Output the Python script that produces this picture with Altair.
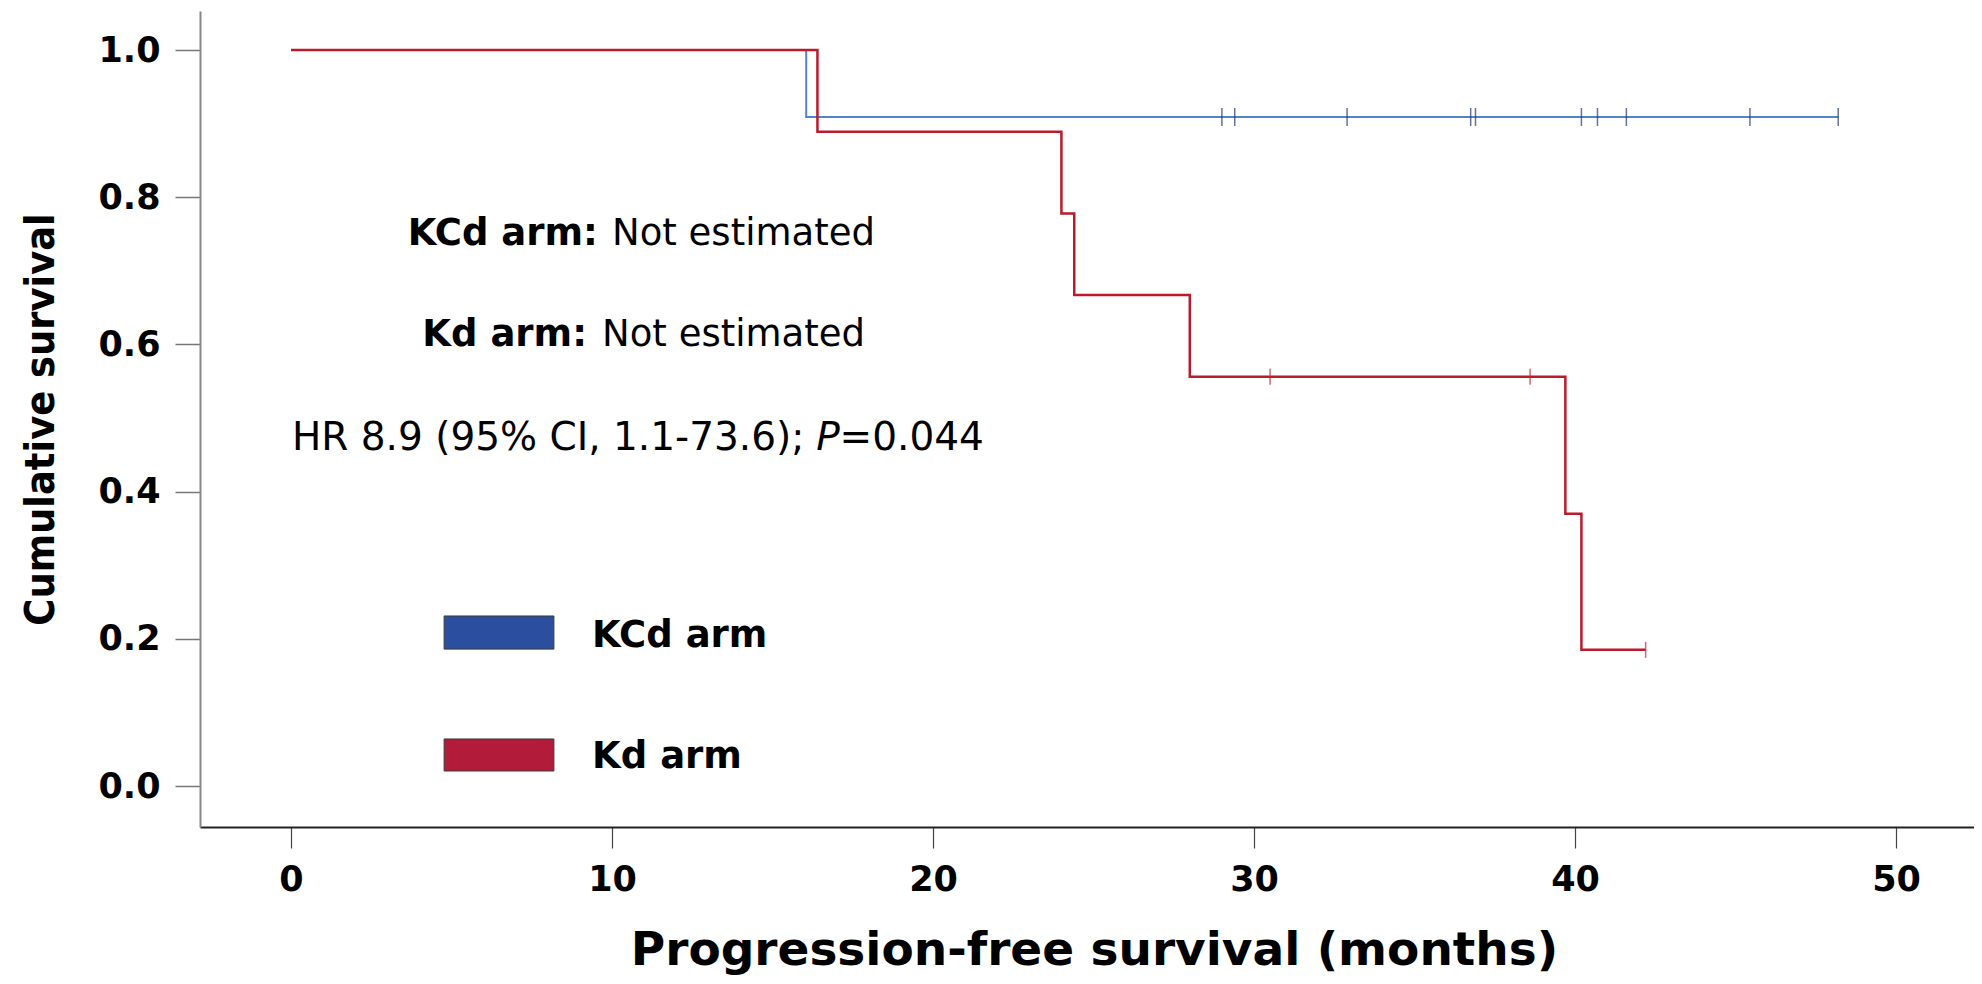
import altair as alt
import pandas as pd

# ---- Kaplan-Meier data ----
kcd_time = [0, 16.05, 48.2]
kcd_surv = [1.0, 0.909, 0.909]
kd_time = [0, 16.4, 24.0, 24.4, 28.0, 39.7, 40.2, 42.2]
kd_surv = [1.0, 0.889, 0.778, 0.667, 0.556, 0.370, 0.185, 0.185]

kcd_cens_time = [29.0, 29.4, 32.9, 36.75, 36.9, 40.2, 40.7, 41.6, 45.45, 48.2]
kcd_cens_surv = [0.909] * 10
kd_cens_time = [30.5, 38.6, 42.2]
kd_cens_surv = [0.556, 0.556, 0.185]

x_ticks = [0, 10, 20, 30, 40, 50]
y_ticks = [0.0, 0.2, 0.4, 0.6, 0.8, 1.0]

# annotations (data coordinates)
bold_text = ["KCd arm:", "Kd arm:"]
bold_x = [9.56, 9.22]
bold_y = [0.735, 0.598]
reg_text = ["Not estimated", "Not estimated"]
reg_x = [10.0, 9.69]
reg_y = [0.735, 0.598]

hr_text = ["HR 8.9 (95% CI, 1.1-73.6);", "P", "=0.044"]
hr_x = [0.03, 16.36, 17.09]
hr_y = [0.4565, 0.4565, 0.4565]
hr_style = ["normal", "italic", "normal"]

legend_labels = ["KCd arm", "Kd arm"]
legend_x1 = [4.77, 4.77]
legend_x2 = [8.19, 8.19]
legend_y1 = [0.231, 0.0639]
legend_y2 = [0.186, 0.0204]
legend_tx = [9.38, 9.38]
legend_ty = [0.189, 0.0245]
legend_fill = ["#2b4f9e", "#b31b3b"]

X_DOMAIN = [-2.835, 52.43]
Y_DOMAIN = [-0.0557, 1.053]

xs = alt.Scale(domain=X_DOMAIN, nice=False, zero=False)
ys = alt.Scale(domain=Y_DOMAIN, nice=False, zero=False)

df_kcd = pd.DataFrame({"t": kcd_time, "s": kcd_surv})
df_kd = pd.DataFrame({"t": kd_time, "s": kd_surv})
df_kcd_c = pd.DataFrame({"t": kcd_cens_time, "s": kcd_cens_surv})
df_kd_c = pd.DataFrame({"t": kd_cens_time, "s": kd_cens_surv})

X = alt.X("t:Q", scale=xs, axis=alt.Axis(
    values=x_ticks, format="d", grid=False,
    title="Progression-free survival (months)",
    labelFont="DejaVu Sans", labelFontWeight="bold", labelFontSize=35, labelColor="#000",
    labelPadding=14, tickSize=21, tickColor="#444", tickWidth=1.2,
    domainColor="#222", domainWidth=2,
    titleFont="DejaVu Sans", titleFontWeight="bold", titleFontSize=47, titleColor="#000",
    titleBaseline="alphabetic", titleY=137, titleX=894, titleAlign="center"))
Y = alt.Y("s:Q", scale=ys, axis=alt.Axis(
    values=y_ticks, format=".1f", grid=False,
    title="Cumulative survival",
    labelFont="DejaVu Sans", labelFontWeight="bold", labelFontSize=35, labelColor="#000",
    labelPadding=15, tickSize=25, tickColor="#777", tickWidth=1.5,
    domainColor="#888", domainWidth=2,
    titleFont="DejaVu Sans Condensed, DejaVu Sans, sans-serif",
    titleFontWeight="bold", titleFontSize=41, titleColor="#000",
    titleAngle=270, titleBaseline="alphabetic", titleAlign="center",
    titleX=-147, titleY=408))

line_kcd = alt.Chart(df_kcd).mark_line(interpolate="step-after", color="#5283d0", strokeWidth=2).encode(x=X, y=Y)
line_kd = alt.Chart(df_kd).mark_line(interpolate="step-after", color="#bb1a2c", strokeWidth=2.5).encode(
    x=alt.X("t:Q", scale=xs), y=alt.Y("s:Q", scale=ys))
cens_kcd = alt.Chart(df_kcd_c).mark_tick(orient="vertical", size=18, thickness=1.5, color="#1f3577").encode(
    x=alt.X("t:Q", scale=xs), y=alt.Y("s:Q", scale=ys))
cens_kd = alt.Chart(df_kd_c).mark_tick(orient="vertical", size=16, thickness=1.5, color="#c0262f").encode(
    x=alt.X("t:Q", scale=xs), y=alt.Y("s:Q", scale=ys))

df_bold = pd.DataFrame({"x": bold_x, "y": bold_y, "text": bold_text})
df_reg = pd.DataFrame({"x": reg_x, "y": reg_y, "text": reg_text})
txt_bold = alt.Chart(df_bold).mark_text(align="right", baseline="alphabetic", font="DejaVu Sans",
                                        fontWeight="bold", fontSize=37, color="#000").encode(
    x=alt.X("x:Q", scale=xs), y=alt.Y("y:Q", scale=ys), text="text:N")
txt_reg = alt.Chart(df_reg).mark_text(align="left", baseline="alphabetic", font="DejaVu Sans",
                                      fontSize=37, color="#000").encode(
    x=alt.X("x:Q", scale=xs), y=alt.Y("y:Q", scale=ys), text="text:N")

hr_layers = []
for t, x, y, st in zip(hr_text, hr_x, hr_y, hr_style):
    d = pd.DataFrame({"x": [x], "y": [y], "text": [t]})
    hr_layers.append(alt.Chart(d).mark_text(align="left", baseline="alphabetic", font="DejaVu Sans",
                                            fontSize=39, fontStyle=st, color="#000").encode(
        x=alt.X("x:Q", scale=xs), y=alt.Y("y:Q", scale=ys), text="text:N"))

df_leg = pd.DataFrame({"x1": legend_x1, "x2": legend_x2, "y1": legend_y1, "y2": legend_y2,
                       "tx": legend_tx, "ty": legend_ty, "label": legend_labels, "fill": legend_fill})
leg_rect = alt.Chart(df_leg).mark_rect(stroke="#3a3a3a", strokeWidth=1).encode(
    x=alt.X("x1:Q", scale=xs), x2="x2:Q", y=alt.Y("y1:Q", scale=ys), y2="y2:Q",
    fill=alt.Fill("fill:N", scale=None))
leg_text = alt.Chart(df_leg).mark_text(align="left", baseline="alphabetic", font="DejaVu Sans",
                                       fontWeight="bold", fontSize=37, color="#000").encode(
    x=alt.X("tx:Q", scale=xs), y=alt.Y("ty:Q", scale=ys), text="label:N")

chart = alt.layer(line_kcd, line_kd, cens_kcd, cens_kd, txt_bold, txt_reg, *hr_layers, leg_rect, leg_text).properties(
    width=1774, height=816,
    autosize=alt.AutoSizeParams(type="none"),
    padding={"left": 192, "top": 3, "right": 0, "bottom": 148},
    background="white",
).configure_view(stroke=None)

chart.save("out.html", embed_options={"renderer": "svg", "actions": False})
